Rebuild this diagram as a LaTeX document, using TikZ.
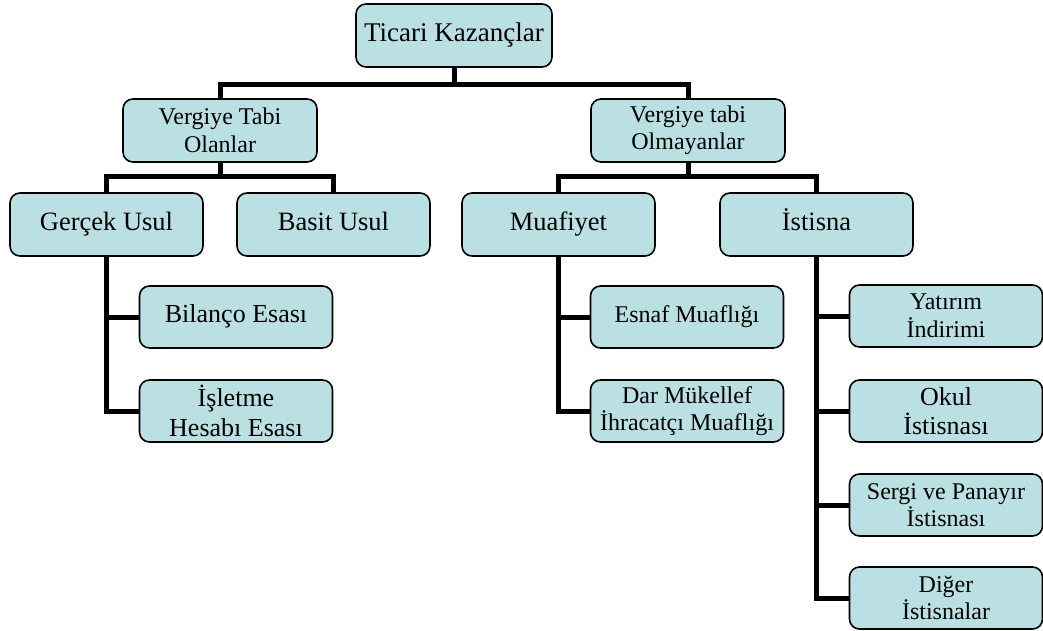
\documentclass[tikz,border=0pt]{standalone}
\usepackage{fontspec}
\setmainfont{Liberation Serif}
\usetikzlibrary{backgrounds}
\definecolor{boxblue}{RGB}{187,224,227}
\tikzset{
  box/.style={draw=black, line width=1.6pt, fill=boxblue, rounded corners=10pt,
    minimum width=193pt, minimum height=62pt, inner sep=0pt, align=center},
  conn/.style={draw=black, line width=5pt, line join=miter},
  fA/.style={font=\fontsize{27}{31}\selectfont},
  fB/.style={font=\fontsize{26.5}{30}\selectfont},
  fC/.style={font=\fontsize{24}{27.5}\selectfont},
  fD/.style={font=\fontsize{26}{29.5}\selectfont},
  oneA/.style={text height=18.4pt, text depth=6.5pt},
  oneB/.style={text height=18pt, text depth=6.4pt},
  oneC/.style={text height=16.3pt, text depth=5.8pt},
  oneD/.style={text height=17.7pt, text depth=6.2pt},
}
\begin{document}
\begin{tikzpicture}[x=1pt,y=-1pt]
\useasboundingbox (0,0) rectangle (1043,631);
% nodes
\node[box,fA,oneA,minimum width=196pt,minimum height=63pt] (top) at (454,35.5) {Ticari Kazançlar};
\node[box,fC,minimum width=194pt,minimum height=63pt] (vt) at (220,130.5) {Vergiye Tabi\\Olanlar};
\node[box,fC,minimum width=194pt,minimum height=63pt] (vo) at (688,130.5) {Vergiye tabi\\Olmayanlar};
\node[box,fB,oneB,minimum height=63pt] (gu) at (106.5,224.5) {Gerçek Usul};
\node[box,fB,oneB,minimum height=63pt] (bu) at (333.5,224.5) {Basit Usul};
\node[box,fB,oneB,minimum height=63pt] (mu) at (558.5,224.5) {Muafiyet};
\node[box,fB,oneB,minimum height=63pt] (is) at (816.5,224.5) {İstisna};
\node[box,fD,oneD] (bil) at (236,317) {Bilanço Esası};
\node[box,fD] (isl) at (236,411) {İşletme\\Hesabı Esası};
\node[box,fC,oneC] (esn) at (687,317) {Esnaf Muaflığı};
\node[box,fC] (dar) at (687,411) {Dar Mükellef\\İhracatçı Muaflığı};
\node[box,fC] (yat) at (946,316) {Yatırım\\İndirimi};
\node[box,fD] (okul) at (946,411) {Okul\\İstisnası};
\node[box,fC] (sergi) at (946,505) {Sergi ve Panayır\\İstisnası};
\node[box,fC] (diger) at (946,598) {Diğer\\İstisnalar};
\coordinate (b1) at (0,85);
\coordinate (b2) at (0,177);
% connectors
\begin{scope}[on background layer]
\draw[conn] (top.south) -- (top.south |- b1);
\draw[conn] (vt.north) |- (top.south |- b1) -| (vo.north);
\draw[conn] (vt.south) -- (vt.south |- b2);
\draw[conn] (gu.north) |- (vt.south |- b2) -| (bu.north);
\draw[conn] (vo.south) -- (vo.south |- b2);
\draw[conn] (mu.north) |- (vo.south |- b2) -| (is.north);
\draw[conn] (gu.south) |- (isl.west);
\draw[conn] (gu.south |- bil.west) -- (bil.west);
\draw[conn] (mu.south) |- (dar.west);
\draw[conn] (mu.south |- esn.west) -- (esn.west);
\draw[conn] (is.south) |- (diger.west);
\draw[conn] (is.south |- yat.west) -- (yat.west);
\draw[conn] (is.south |- okul.west) -- (okul.west);
\draw[conn] (is.south |- sergi.west) -- (sergi.west);
\end{scope}
\end{tikzpicture}
\end{document}
